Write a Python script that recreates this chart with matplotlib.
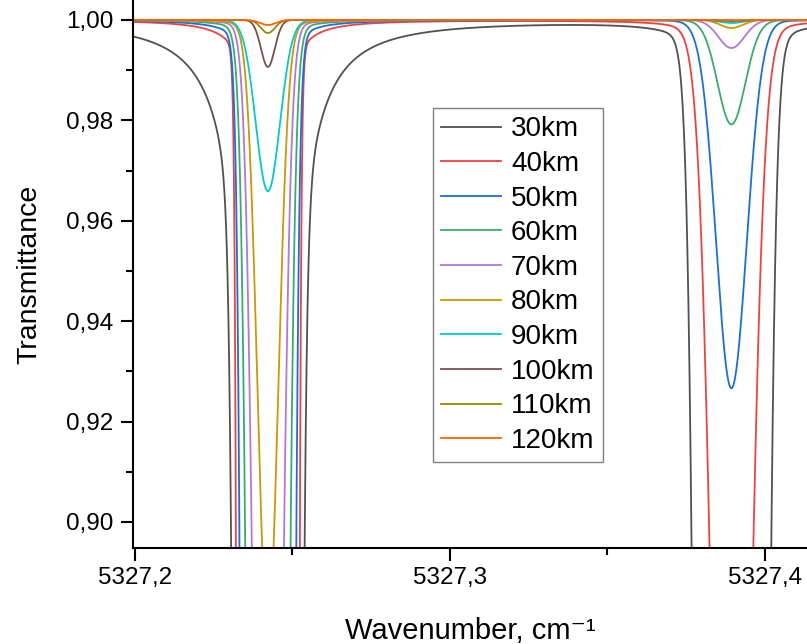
"""
Transmittance near 5327.2-5327.4 cm-1 for observer altitudes 30-120 km.
Two absorption lines, shape parameters read off the reference figure.
"""

import numpy as np
import matplotlib.pyplot as plt
from matplotlib.ticker import MultipleLocator, FuncFormatter

plt.rcParams["font.family"] = ["Liberation Sans", "DejaVu Sans"]

# altitudes / legend labels
altitudes = [30, 40, 50, 60, 70, 80, 90, 100, 110, 120]
labels = [f"{a}km" for a in altitudes]

# line centres (cm-1)
nu_line1 = 5327.2422
nu_line2 = 5327.3894

# line 1: peak optical depth, core width (cm-1), wing strength (cm-2)
tau_line1 = [54, 4400, 13.4, 1.35, 0.385, 0.125, 0.0347, 0.0094, 0.0026, 0.0010]
width_line1 = [0.0032, 0.0022, 0.0029, 0.0032, 0.0032, 0.0032, 0.0038, 0.0022, 0.0022, 0.0025]
wing_line1 = [6.0e-6, 7.0e-7, 4.0e-7, 2.0e-7, 1.0e-7, 6.0e-8, 0, 0, 0, 0]

# line 2
tau_line2 = [6.6, 0.30, 0.074, 0.0205, 0.0056, 0.0016, 0.0006, 0.0002, 0.0001, 0.00005]
width_line2 = [0.0044, 0.0048, 0.0048, 0.0044, 0.0041, 0.0035, 0.0035, 0.0032, 0.0029, 0.0029]
wing_line2 = [9.0e-7, 4.0e-7, 5.0e-8, 1.0e-8, 0, 0, 0, 0, 0, 0]

# Origin default colour list
colors = ["#515151", "#F14040", "#1A6FDF", "#37AD6B", "#B177DE",
          "#CC9900", "#00CBCC", "#7D4E4E", "#8E8E00", "#FB6501"]


def optical_depth(nu, centre, tau0, width, wing):
    dx = nu - centre
    return tau0 * np.exp(-dx**2 / (2 * width**2)) + wing / (dx**2 + width**2)


nu = np.linspace(5327.19, 5327.42, 8000)

fig = plt.figure(figsize=(8.07, 6.44), dpi=100)
ax = fig.add_axes([133 / 807, 96 / 644, 674 / 807, 548 / 644])

for i, lab in enumerate(labels):
    tau = optical_depth(nu, nu_line1, tau_line1[i], width_line1[i], wing_line1[i])
    tau += optical_depth(nu, nu_line2, tau_line2[i], width_line2[i], wing_line2[i])
    ax.plot(nu, np.exp(-tau), color=colors[i], lw=1.3, label=lab)

ax.set_xlim(5327.19937, 5327.4134)
ax.set_ylim(0.89482, 1.00398)

ax.spines["top"].set_visible(False)
ax.spines["right"].set_visible(False)
for s in ["left", "bottom"]:
    ax.spines[s].set_linewidth(1.5)

ax.xaxis.set_major_locator(MultipleLocator(0.1))
ax.xaxis.set_minor_locator(MultipleLocator(0.05))
ax.yaxis.set_major_locator(MultipleLocator(0.02))
ax.yaxis.set_minor_locator(MultipleLocator(0.01))
ax.xaxis.set_major_formatter(FuncFormatter(lambda v, p: f"{v:.1f}".replace(".", ",")))
ax.yaxis.set_major_formatter(FuncFormatter(lambda v, p: f"{v:.2f}".replace(".", ",")))
ax.tick_params(which="major", direction="out", length=9, width=1.5, labelsize=17.5, pad=5)
ax.tick_params(which="minor", direction="out", length=5, width=1.5)

ax.set_xlabel("Wavenumber, cm\u207b\u00b9", fontsize=21, labelpad=20)
ax.set_ylabel("Transmittance", fontsize=20.5, labelpad=17)

leg = ax.legend(loc="upper left", bbox_to_anchor=(433 / 807, 1 - 108 / 644),
                bbox_transform=fig.transFigure, fontsize=20, frameon=True,
                fancybox=False, edgecolor="#606060", handlelength=2.15,
                labelspacing=0.31, borderpad=0.3, handletextpad=0.36,
                borderaxespad=0)
leg.get_frame().set_linewidth(1.0)

fig.savefig("out.png", dpi=100)
